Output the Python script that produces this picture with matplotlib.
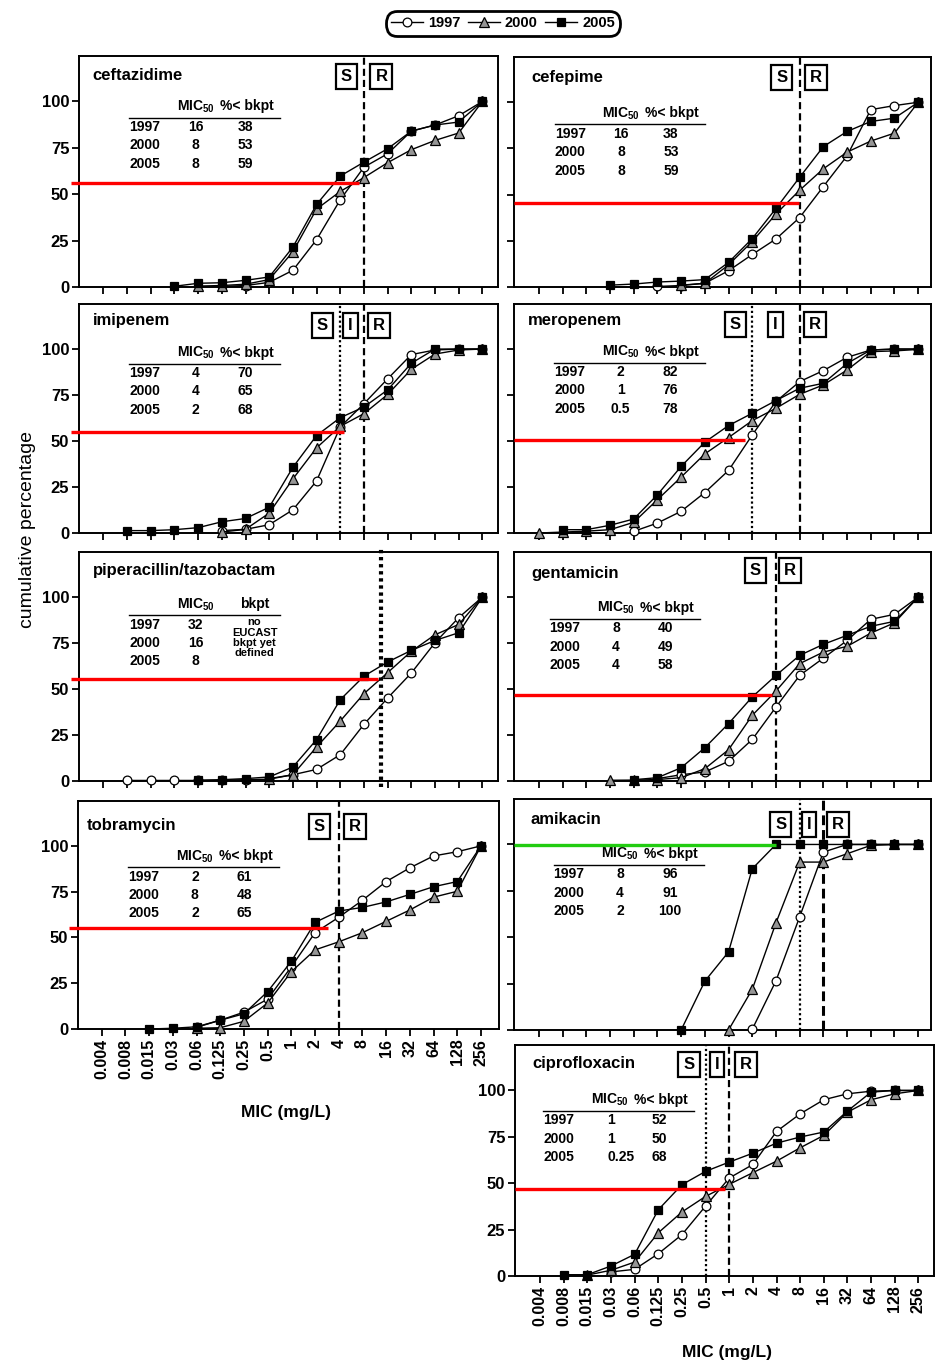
import numpy as np
import matplotlib
matplotlib.use('Agg')
from matplotlib import pyplot as plt
from matplotlib.lines import Line2D

plt.rcParams['font.family'] = ['Liberation Sans', 'DejaVu Sans']
plt.rcParams['mathtext.fontset'] = 'custom'
plt.rcParams['mathtext.rm'] = 'Liberation Sans'
plt.rcParams['mathtext.bf'] = 'Liberation Sans:bold'

N = np.nan

# MIC classes (mg/L) on the x axis
mic_labels = ['0.004', '0.008', '0.015', '0.03', '0.06', '0.125', '0.25', '0.5',
              '1', '2', '4', '8', '16', '32', '64', '128', '256']
years = ['1997', '2000', '2005']

# cumulative percentages
ceftazidime_1997 = [N, N, N, N, N, 0.3, 0.8, 2.5, 9, 25.5, 47, 64.6, 71.8, 84, 87.3, 92.3, 100]
ceftazidime_2000 = [N, N, N, N, 0.5, 0.8, 1.5, 4, 19, 42, 51.5, 59, 67, 74, 79, 83, 100]
ceftazidime_2005 = [N, N, N, 0.4, 2, 2.3, 3.6, 5.4, 21.5, 44.5, 59.8, 67.3, 74.5, 84, 87.3, 88.9, 100]

cefepime_1997 = [N, N, N, N, N, 0.3, 0.8, 2, 8.8, 17.6, 26, 37.6, 54.4, 71, 96, 98.2, 100]
cefepime_2000 = [N, N, N, N, N, N, 1, 2, 12, 24.6, 39.5, 52.4, 64, 73, 79, 83.3, 100]
cefepime_2005 = [N, N, N, 1, 1.6, 2.7, 3.2, 4, 13.3, 26.2, 42.5, 59.4, 76, 84.2, 89.6, 91.4, 100]

imipenem_1997 = [N, N, N, N, N, 1.3, 2, 4.5, 12.6, 28.3, 57.7, 70.3, 83.8, 97, 99.5, 100, 100]
imipenem_2000 = [N, N, N, N, N, 0.5, 2, 10.8, 29.4, 46.3, 58, 64.9, 75.3, 89, 97.3, 99.5, 100]
imipenem_2005 = [N, 1.3, 1.3, 1.8, 2.9, 6.1, 7.9, 14, 35.7, 53, 62.7, 68.5, 77.8, 92.3, 100, 100, 100]

meropenem_1997 = [N, N, N, N, 0.9, 5.4, 11.8, 22, 34, 53.3, 71.5, 82.3, 88.3, 95.5, 99.5, 100, 100]
meropenem_2000 = [0, 0.5, 1, 1.8, 5.8, 18.1, 30.4, 43, 51.9, 61.1, 67.8, 75.4, 80.5, 88.6, 98.6, 99, 99.8]
meropenem_2005 = [N, 1.8, 1.8, 4.2, 7.6, 20.8, 36.2, 49.4, 58.4, 65.1, 72, 78.7, 81.4, 92.2, 99.5, 100, 100]

piptazo_1997 = [N, 0.3, 0.3, 0.3, 0.3, 0.5, 0.7, 1, 3.4, 6.3, 14.3, 30.8, 45.1, 58.7, 75.2, 88.8, 100]
piptazo_2000 = [N, N, N, N, N, N, N, 1.3, 3.4, 18.5, 32.6, 47.5, 58.9, 70.5, 79.5, 85.1, 100]
piptazo_2005 = [N, N, N, N, 0.4, 0.7, 1.3, 2.2, 7.6, 22.5, 44.2, 57, 64.7, 71, 76.4, 80.6, 100]

gentamicin_1997 = [N, N, N, N, N, 1.3, 3.4, 4.9, 10.7, 22.6, 40.2, 57.4, 66.8, 76.4, 87.9, 90.6, 100]
gentamicin_2000 = [N, N, N, 0.4, 0.5, 0.8, 1.8, 6.7, 17, 35.7, 48.9, 63.8, 70.1, 73.2, 80.4, 86, 100]
gentamicin_2005 = [N, N, N, N, 0.7, 1.8, 7.2, 18.1, 31.2, 45.7, 57.4, 68.3, 74.3, 79.2, 84.1, 86.8, 100]

tobramycin_1997 = [N, N, N, N, 0.9, 4.8, 9.2, 16.3, 34, 52.6, 61, 70.3, 80.5, 88, 94.5, 96.8, 100]
tobramycin_2000 = [N, N, N, N, 0.4, 0.7, 4.2, 14.2, 31.3, 43.2, 47.6, 52.6, 58.8, 65, 72, 75.2, 100]
tobramycin_2005 = [N, N, 0, 0.4, 1.2, 4.8, 8.3, 20.4, 37, 58.2, 64.4, 66.4, 69.4, 73.5, 77.7, 80.5, 100]

amikacin_1997 = [N, N, N, N, N, N, N, N, N, 0.4, 26.5, 61, 95.9, 100, 100, 100, 100]
amikacin_2000 = [N, N, N, N, N, N, N, N, 0, 21.9, 57.7, 90.5, 90.5, 95, 99.5, 100, 100]
amikacin_2005 = [N, N, N, N, N, N, 0, 26.3, 42.1, 86.9, 100, 100, 100, 100, 100, 100, 100]

cipro_1997 = [N, N, N, 2.2, 3.6, 12, 22.3, 37.7, 52.8, 60.1, 77.9, 87.4, 95, 98.2, 99.6, 100, 100]
cipro_2000 = [N, N, 0.5, 3.1, 7.5, 23.3, 34.5, 42.9, 49.4, 55.7, 61.9, 69.1, 75.8, 88.3, 95, 98.2, 100]
cipro_2005 = [N, 0.7, 0.7, 5.4, 11.7, 35.7, 49.2, 56.4, 61.4, 66.2, 71.6, 74.9, 77.6, 88.9, 99.1, 100, 100]

# inset tables: MIC50 and % < breakpoint per year
ceftazidime_mic50 = ['16', '8', '8']
ceftazidime_pct = ['38', '53', '59']
cefepime_mic50 = ['16', '8', '8']
cefepime_pct = ['38', '53', '59']
imipenem_mic50 = ['4', '4', '2']
imipenem_pct = ['70', '65', '68']
meropenem_mic50 = ['2', '1', '0.5']
meropenem_pct = ['82', '76', '78']
piptazo_mic50 = ['32', '16', '8']
gentamicin_mic50 = ['8', '4', '4']
gentamicin_pct = ['40', '49', '58']
tobramycin_mic50 = ['2', '8', '2']
tobramycin_pct = ['61', '48', '65']
amikacin_mic50 = ['8', '4', '2']
amikacin_pct = ['96', '91', '100']
cipro_mic50 = ['1', '1', '0.25']
cipro_pct = ['52', '50', '68']

W, H = 938, 1364
LEFT_XLIM = (-1.03, 16.66)
RIGHT_XLIM = (-1.05, 16.54)

styles = [
    dict(marker='o', ms=6.3, mfc='white', z=3),
    dict(marker='^', ms=7.0, mfc='#959595', z=4),
    dict(marker='s', ms=5.8, mfc='black', z=5),
]

# layout of each panel (pixel rect, breakpoint lines, boxes, red line, table spot)
panels = [
    dict(name='ceftazidime', rect=(79, 56, 498, 287), xlim=LEFT_XLIM,
         series=(ceftazidime_1997, ceftazidime_2000, ceftazidime_2005),
         title=(-0.45, 114), vlines=[(11, 'dash')],
         boxes=[('S', 10.26), ('R', 11.74)], box_y=113.5,
         hline=(56, 10.79, 'red'), table=(1.1, 97.3), mic=ceftazidime_mic50, pct=ceftazidime_pct),
    dict(name='cefepime', rect=(514, 57, 931, 287), xlim=RIGHT_XLIM,
         series=(cefepime_1997, cefepime_2000, cefepime_2005),
         title=(-0.3, 113.5), vlines=[(11, 'dash')],
         boxes=[('S', 10.24), ('R', 11.69)], box_y=113.5,
         hline=(45.2, 10.97, 'red'), table=(0.67, 94), mic=cefepime_mic50, pct=cefepime_pct),
    dict(name='imipenem', rect=(79, 304, 498, 533), xlim=LEFT_XLIM,
         series=(imipenem_1997, imipenem_2000, imipenem_2005),
         title=(-0.45, 115.3), vlines=[(10, 'dot'), (11, 'dash')],
         boxes=[('S', 9.25), ('I', 10.42), ('R', 11.62)], box_y=113,
         hline=(55, 10.14, 'red'), table=(1.1, 98), mic=imipenem_mic50, pct=imipenem_pct),
    dict(name='meropenem', rect=(514, 304, 931, 533), xlim=RIGHT_XLIM,
         series=(meropenem_1997, meropenem_2000, meropenem_2005),
         title=(-0.47, 115.4), vlines=[(9, 'dot'), (11, 'dash')],
         boxes=[('S', 8.28), ('I', 9.97), ('R', 11.66)], box_y=113.5,
         hline=(50.3, 8.69, 'red'), table=(0.65, 98.5), mic=meropenem_mic50, pct=meropenem_pct),
    dict(name='piperacillin/tazobactam', rect=(79, 552, 498, 781), xlim=LEFT_XLIM,
         series=(piptazo_1997, piptazo_2000, piptazo_2005),
         title=(-0.45, 114.5), vlines=[(11.7, 'heavydot')],
         boxes=[], box_y=113,
         hline=(55.6, 11.58, 'red'), table=(1.1, 96), mic=piptazo_mic50, pct=None),
    dict(name='gentamicin', rect=(514, 552, 931, 781), xlim=RIGHT_XLIM,
         series=(gentamicin_1997, gentamicin_2000, gentamicin_2005),
         title=(-0.3, 112.7), vlines=[(10, 'dash')],
         boxes=[('S', 9.14), ('R', 10.6)], box_y=114.7,
         hline=(46.6, 9.85, 'red'), table=(0.45, 94), mic=gentamicin_mic50, pct=gentamicin_pct),
    dict(name='tobramycin', rect=(78, 801, 499, 1029), xlim=(-1.0, 16.76),
         series=(tobramycin_1997, tobramycin_2000, tobramycin_2005),
         title=(-0.62, 111.3), vlines=[(10, 'dash')],
         boxes=[('S', 9.18), ('R', 10.69)], box_y=110.6,
         hline=(55.2, 9.56, 'red'), table=(1.13, 94.2), mic=tobramycin_mic50, pct=tobramycin_pct),
    dict(name='amikacin', rect=(514, 799, 931, 1030), xlim=RIGHT_XLIM,
         series=(amikacin_1997, amikacin_2000, amikacin_2005),
         title=(-0.37, 113.3), vlines=[(11, 'dot'), (12, 'heavydash')],
         boxes=[('S', 10.2), ('I', 11.4), ('R', 12.6)], box_y=111,
         hline=(99.5, 9.99, '#22cc11'), table=(0.62, 95), mic=amikacin_mic50, pct=amikacin_pct),
    dict(name='ciprofloxacin', rect=(515, 1045, 934, 1276), xlim=(-1.06, 16.66),
         series=(cipro_1997, cipro_2000, cipro_2005),
         title=(-0.34, 114.7), vlines=[(7, 'dot'), (8, 'dash')],
         boxes=[('S', 6.3), ('I', 7.49), ('R', 8.69)], box_y=114,
         hline=(47, 7.83, 'red'), table=(0.14, 95), mic=cipro_mic50, pct=cipro_pct),
]

line_styles = {
    'dash': dict(ls=(0, (3.2, 1.8)), lw=1.6),
    'heavydash': dict(ls=(0, (3.2, 1.6)), lw=2.2),
    'dot': dict(ls=(0, (1.0, 1.2)), lw=1.6),
    'heavydot': dict(ls=(0, (0.8, 0.9)), lw=3.0),
}

fig = plt.figure(figsize=(W / 100, H / 100), dpi=100)
x = np.arange(len(mic_labels))

for p in panels:
    x0, top, x1, bottom = p['rect']
    ax = fig.add_axes([x0 / W, 1 - bottom / H, (x1 - x0) / W, (bottom - top) / H])
    ax.set_xlim(*p['xlim'])
    ax.set_ylim(0, 124.5)
    left_col = x0 < 300

    for vals, st in zip(p['series'], styles):
        ax.plot(x, vals, color='black', lw=1.0, marker=st['marker'], ms=st['ms'],
                mfc=st['mfc'], mec='black', mew=0.9, clip_on=False, zorder=st['z'])

    for xv, kind in p['vlines']:
        if kind == 'heavydot':
            ax.plot([xv, xv], [-3.5, 127], color='black', clip_on=False, zorder=2,
                    **line_styles[kind])
        else:
            ax.axvline(xv, color='black', zorder=2, **line_styles[kind])

    for letter, bx in p['boxes']:
        ax.text(bx, p['box_y'], letter, ha='center', va='center', fontsize=12,
                fontweight='bold', zorder=6,
                bbox=dict(boxstyle='square,pad=0.3', fc='white', ec='black', lw=1.6))

    hy, hx_end, hcol = p['hline']
    hx_start = -1.36 if left_col else p['xlim'][0]
    ax.plot([hx_start, hx_end], [hy, hy], color=hcol, lw=2.4, clip_on=False,
            solid_capstyle='butt', zorder=7)

    ax.text(p['title'][0], p['title'][1], p['name'], fontsize=12, fontweight='bold',
            ha='left', va='center')

    # inset table
    tx, ty = p['table']
    tfs = 10
    ax.text(tx + 2.8, ty, r'MIC$_{\mathregular{50}}$', fontsize=tfs, fontweight='bold',
            ha='center', va='center')
    ax.plot([tx, tx + 6.35], [ty - 6.0, ty - 6.0], color='black', lw=1.0)
    row_y = [ty - 11, ty - 21, ty - 31]
    mic_ha = 'left' if p['name'] == 'ciprofloxacin' else 'center'
    mic_x = tx + 2.7 if mic_ha == 'left' else tx + 2.8
    for yr, mv, ry in zip(years, p['mic'], row_y):
        ax.text(tx, ry, yr, fontsize=tfs, fontweight='bold', ha='left', va='center')
        ax.text(mic_x, ry, mv, fontsize=tfs, fontweight='bold', ha=mic_ha, va='center')
    if p['pct'] is not None:
        ax.text(tx + 4.95, ty, '%< bkpt', fontsize=tfs, fontweight='bold',
                ha='center', va='center')
        for pv, ry in zip(p['pct'], row_y):
            ax.text(tx + 4.9, ry, pv, fontsize=tfs, fontweight='bold', ha='center', va='center')
    else:
        ax.text(tx + 5.28, ty, 'bkpt', fontsize=tfs, fontweight='bold',
                ha='center', va='center')
        for txt, ry in zip(['no', 'EUCAST', 'bkpt yet', 'defined'], [86.5, 80.6, 75.2, 69.8]):
            ax.text(tx + 5.28, ry, txt, fontsize=8, fontweight='bold',
                    ha='center', va='center')

    # axes styling
    for s in ax.spines.values():
        s.set_linewidth(1.4)
    ax.set_yticks([0, 25, 50, 75, 100])
    ax.set_xticks(x)
    ax.tick_params(direction='out', length=5, width=1.3, pad=2)
    show_y = left_col or p['name'] == 'ciprofloxacin'
    if show_y:
        ax.set_yticklabels(['0', '25', '50', '75', '100'], fontsize=12, fontweight='bold')
    else:
        ax.set_yticklabels([])
    if p['name'] in ('tobramycin', 'ciprofloxacin'):
        ax.set_xticklabels(mic_labels, rotation=90, fontsize=11.5, fontweight='bold')
    else:
        ax.set_xticklabels([])

fig.text(27 / W, 1 - 530 / H, 'cumulative percentage', rotation=90, fontsize=14,
         ha='center', va='center')
fig.text(286 / W, 1 - 1113 / H, 'MIC (mg/L)', fontsize=12.5, fontweight='bold',
         ha='center', va='center')
fig.text(727 / W, 1 - 1353 / H, 'MIC (mg/L)', fontsize=12.5, fontweight='bold',
         ha='center', va='center')

handles = [Line2D([], [], color='black', lw=1.0, marker=st['marker'], ms=st['ms'],
                  mfc=st['mfc'], mec='black', mew=0.9) for st in styles]
leg = fig.legend(handles, years, loc='upper center', bbox_to_anchor=(503 / W, 1 - 4 / H),
                 ncol=3, frameon=True, fancybox=True, edgecolor='black', framealpha=1,
                 handlelength=2.2, handletextpad=0.35, columnspacing=0.5, borderpad=0.35,
                 prop=dict(weight='bold', size=10.5))
leg.get_frame().set_linewidth(2.0)
leg.get_frame().set_boxstyle('round,pad=0.0,rounding_size=0.8')

fig.savefig('out.png', dpi=100)
